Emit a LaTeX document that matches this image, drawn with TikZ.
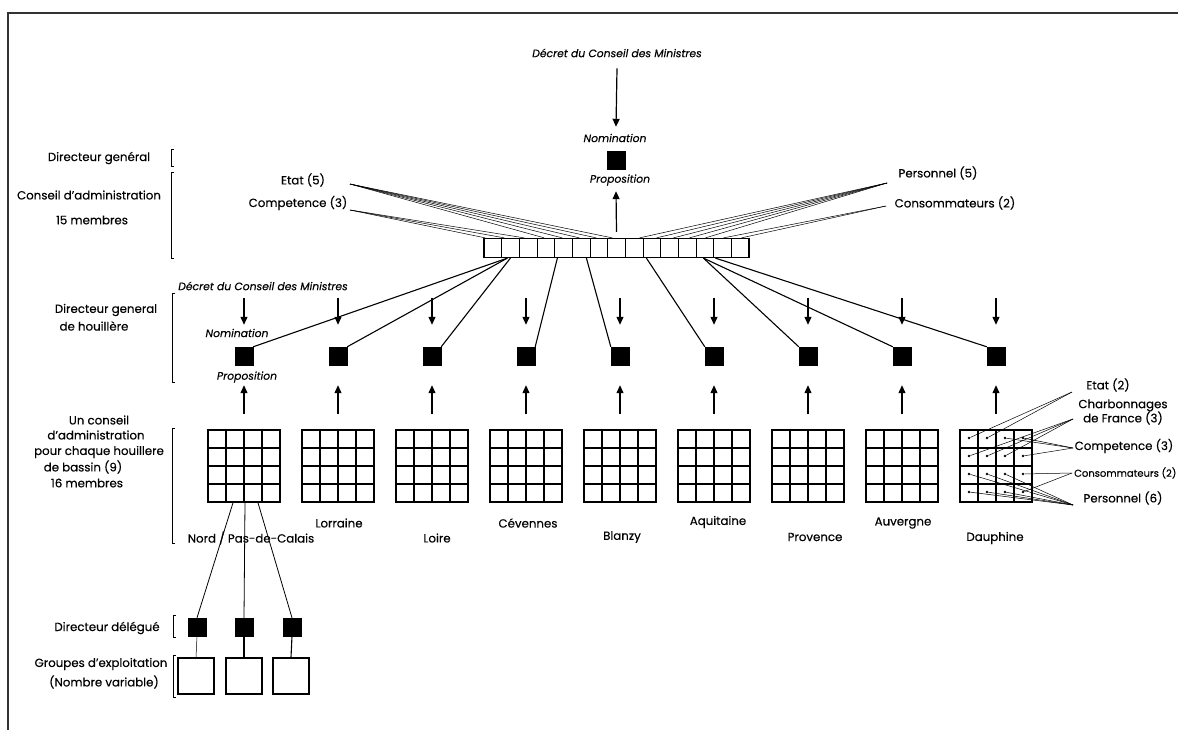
\documentclass[tikz,border=0pt]{standalone}
\usepackage{fontspec}
\setmainfont{Poppins}[FakeBold=0.25]
\usetikzlibrary{arrows.meta}
\begin{document}
\begin{tikzpicture}[x=1pt,y=-1pt,
  lbl/.style={font=\fontsize{11.8}{13}\selectfont, inner sep=0pt},
  ilbl/.style={font=\fontsize{10.8}{12}\selectfont\itshape, inner sep=0pt},
  blk/.style={draw=black, fill=black, minimum size=18pt, inner sep=0pt},
  grp/.style={draw=black, line width=1.3pt, minimum size=36pt, inner sep=0pt},
  arr/.style={line width=1.2pt, -{Triangle[length=8pt,width=7pt]}},
  link/.style={line width=1.1pt},
  fan/.style={line width=0.5pt},
  brk/.style={line width=1pt},
  dot/.style={circle, fill=black, inner sep=0pt, minimum size=2.6pt},
  basin/.style={draw=black, line width=1.6pt, minimum size=72pt, inner sep=0pt,
    path picture={
      \foreach \k in {1,2,3} {
        \draw[line width=1.1pt] ([xshift={\k*18pt}]path picture bounding box.north west)
          -- ([xshift={\k*18pt}]path picture bounding box.south west);
        \draw[line width=1.1pt] ([yshift={-\k*18pt}]path picture bounding box.north west)
          -- ([yshift={-\k*18pt}]path picture bounding box.north east);
      }}},
  barbox/.style={draw=black, line width=1.2pt, minimum width=265pt, minimum height=19pt, inner sep=0pt,
    path picture={
      \foreach \k in {1,...,14} {
        \draw[line width=0.7pt] ([xshift={\k*265pt/15}]path picture bounding box.north west)
          -- ([xshift={\k*265pt/15}]path picture bounding box.south west);
      }}}
]
\useasboundingbox (0,0) rectangle (1178,738);
\clip (0,0) rectangle (1178,738);

% frame
\draw[line width=1.2pt, black!80] (8,730) -- (8,13) -- (1178,13);

% level brackets
\newcommand\bracketmark[3]{\draw[brk] (#1+3,#2) -- (#1,#2) -- (#1,#3) -- (#1+3,#3);}
\bracketmark{171}{150}{167}
\bracketmark{171}{173}{258}
\bracketmark{172}{293}{382}
\bracketmark{172}{428}{543}
\bracketmark{173}{615}{637}
\bracketmark{173}{655}{697}

% left column labels
\node[lbl] (lDG) at (99,158) {Directeur genéral};
\node[lbl] (lCA1) at (89,195) {Conseil d'administration};
\node[lbl] (lCA2) at (92,220) {15 membres};
\node[lbl] (lDH1) at (106,310) {Directeur general};
\node[lbl] (lDH2) at (94,326) {de houillère};
\node[lbl] (lUC1) at (99,420) {Un conseil};
\node[lbl] (lUC2) at (96,435) {d'administration};
\node[lbl] (lUC3) at (99,452) {pour chaque houillere};
\node[lbl] (lUC4) at (83,467) {de bassin (9)};
\node[lbl] (lUC5) at (87,483) {16 membres};
\node[lbl] (lDD) at (107,628) {Directeur délégué};
\node[lbl] (lGE1) at (101,664) {Groupes d'exploitation};
\node[lbl] (lGE2) at (104,682) {(Nombre variable)};

% national level
\node[ilbl] (decret) at (617,53) {Décret du Conseil des Ministres};
\node[ilbl] (nom) at (615,138) {Nomination};
\node[blk] (dg) at (616,160) {};
\node[ilbl] (prop) at (620,180) {Proposition};
\node[barbox] (bar) at (616.5,248) {};
\draw[arr] ([yshift=-11pt]decret.south) -- ([yshift=24pt]dg.north);
\draw[arr] ([yshift=6pt]bar.north) -- ([yshift=-22pt]dg.south);

% board members of the national council
\node[lbl] (etat) at (303,180) {Etat (5)};
\node[lbl] (comp) at (298,203) {Competence (3)};
\node[lbl] (pers) at (938,173) {Personnel (5)};
\node[lbl] (cons) at (955,203) {Consommateurs (2)};
\coordinate (etatA) at (350,184);
\coordinate (compA) at (350,210);
\coordinate (persA) at (887,183);
\coordinate (consA) at (886,206);
\foreach \dx in {2,21,41} \draw[fan] (compA) -- ([xshift=\dx pt]bar.north west);
\foreach \dx in {61,79,96,113,129} \draw[fan] (etatA) -- ([xshift=\dx pt]bar.north west);
\foreach \dx in {156,173,190,206,222} \draw[fan] (persA) -- ([xshift=\dx pt]bar.north west);
\foreach \dx in {240,258} \draw[fan] (consA) -- ([xshift=\dx pt]bar.north west);

% coalfield level
\node[ilbl] (decret2) at (263,286) {Décret du Conseil des Ministres};
\node[ilbl] (nom2) at (237,333) {Nomination};
\node[ilbl] (prop2) at (247,377) {Proposition};
\foreach \k in {1,...,9} {
  \pgfmathsetmacro\xx{244+94*(\k-1)}
  \node[blk] (d\k) at (\xx,356) {};
  \node[basin] (g\k) at (\xx,466) {};
  \draw[arr] ([yshift=49pt]d\k.north) -- ([yshift=22pt]d\k.north);
  \draw[arr] ([yshift=15pt]g\k.north) -- ([yshift=-20pt]d\k.south);
}
\draw[link] ([xshift=24pt]bar.south west) -- (d1.north east);
\draw[link] ([xshift=24pt]bar.south west) -- (d2.north east);
\draw[link] ([xshift=27pt]bar.south west) -- (d3.north east);
\draw[link] ([xshift=74pt]bar.south west) -- (d4.north east);
\draw[link] ([xshift=103pt]bar.south west) -- (d5.north west);
\draw[link] ([xshift=163pt]bar.south west) -- (d6.north west);
\draw[link] ([xshift=220pt]bar.south west) -- (d7.north west);
\draw[link] ([xshift=220pt]bar.south west) -- (d8.north west);
\draw[link] ([xshift=232pt]bar.south west) -- (d9.north west);

% coalfield names
\node[lbl] (n1) at (251,538) {Nord / Pas-de-Calais};
\node[lbl] (n2) at (339,523) {Lorraine};
\node[lbl] (n3) at (437,538) {Loire};
\node[lbl] (n4) at (528,523) {Cévennes};
\node[lbl] (n5) at (622,537) {Blanzy};
\node[lbl] (n6) at (718,522) {Aquitaine};
\node[lbl] (n7) at (815,537) {Provence};
\node[lbl] (n8) at (903,523) {Auvergne};
\node[lbl] (n9) at (995,538) {Dauphine};

% composition of one coalfield board
\foreach \r in {1,...,4} \foreach \c in {1,...,4} {
  \node[dot] (p\r\c) at (960+18*\c-9, 430+18*\r-10) {};
}
\node[lbl] (etat2) at (1108,385) {Etat (2)};
\node[lbl, align=center] (charb) at (1123,412) {Charbonnages\\[-1pt]de France (3)};
\node[lbl] (comp2) at (1124,446) {Competence (3)};
\node[lbl, anchor=west, font=\fontsize{10}{12}\selectfont] (cons2) at (1074,473) {Consommateurs (2)};
\node[lbl] (pers2) at (1123,498) {Personnel (6)};
\coordinate (etat2A) at (1072,392);
\coordinate (charbA) at (1073,419);
\coordinate (comp2A) at (1073,448);
\coordinate (cons2A) at (1072,473);
\coordinate (pers2A) at (1073,505);
\foreach \p in {p11,p12} \draw[fan] (etat2A) -- (\p);
\foreach \p in {p21,p22,p23} \draw[fan] (charbA) -- (\p);
\foreach \p in {p13,p14,p24} \draw[fan] (comp2A) -- (\p);
\foreach \p in {p34,p44} \draw[fan] (cons2A) -- (\p);
\foreach \p in {p31,p32,p33,p41,p42,p43} \draw[fan] (pers2A) -- (\p);

% operating groups of Nord / Pas-de-Calais
\node[blk] (dd1) at (197,627) {};
\node[blk] (dd2) at (244,627) {};
\node[blk] (dd3) at (292,627) {};
\node[grp] (gr1) at (196,676) {};
\node[grp] (gr2) at (244,676) {};
\node[grp] (gr3) at (291,676) {};
\draw[link, line width=0.8pt] ([xshift=-11pt]g1.south) -- (dd1.north);
\draw[link, line width=0.8pt] ([xshift=1pt]g1.south) -- (dd2.north);
\draw[link, line width=0.8pt] ([xshift=14pt]g1.south) -- (dd3.north);
\draw[line width=0.5pt] (dd1.south) -- (gr1.north);
\draw[link] (dd2.south) -- (gr2.north);
\draw[link] (dd3.south) -- (gr3.north);
\end{tikzpicture}
\end{document}
